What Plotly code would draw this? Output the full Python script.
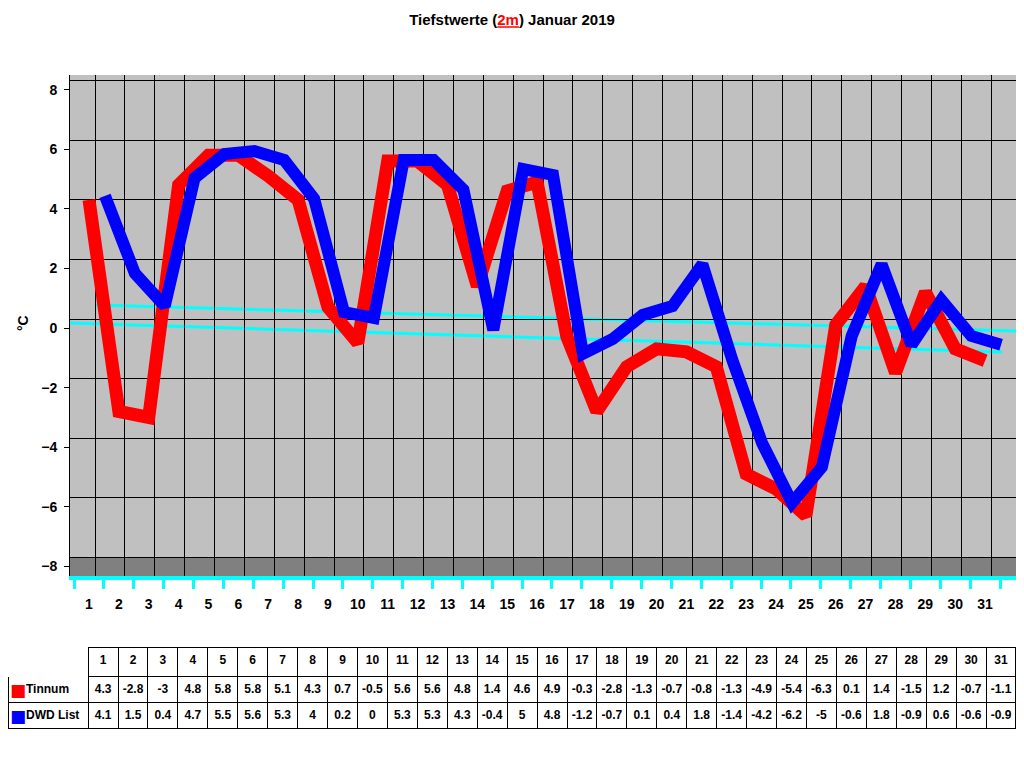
import plotly.graph_objects as go

# Tiefstwerte 2m, Januar 2019
days = list(range(1, 32))
tinnum = [4.3, -2.8, -3, 4.8, 5.8, 5.8, 5.1, 4.3, 0.7, -0.5, 5.6, 5.6, 4.8, 1.4, 4.6, 4.9,
          -0.3, -2.8, -1.3, -0.7, -0.8, -1.3, -4.9, -5.4, -6.3, 0.1, 1.4, -1.5, 1.2, -0.7, -1.1]
dwd = [4.1, 1.5, 0.4, 4.7, 5.5, 5.6, 5.3, 4, 0.2, 0, 5.3, 5.3, 4.3, -0.4, 5, 4.8,
       -1.2, -0.7, 0.1, 0.4, 1.8, -1.4, -4.2, -6.2, -5, -0.6, 1.8, -0.9, 0.6, -0.6, -0.9]
yticks = list(range(-8, 9, 2))
seriesNames = ["Tinnum", "DWD\u00a0List"]
seriesColors = ["#FF0000", "#0000FF"]

# the page body adds an 8px margin, so the figure is 16px smaller than the window
OFF = 8
W, H = 1024 - 2 * OFF, 768 - 2 * OFF
L, R, T, B = 70, 1016, 75, 576      # plot box in window pixels
pxDay = 29.87
pxDeg = 29.8
frontZero = 328                     # pixel row of 0 on the front plane
fontName = "Liberation Sans"
wall = "#C0C0C0"
floor = "#808080"
cyan = "#00FFFF"

boundaries = [d - 0.5 for d in days] + [days[-1] + 0.5]


def px(x):
    return min(max((x - OFF) / W, 0), 1)


def py(y):
    return min(max((H - (y - OFF)) / H, 0), 1)


def xRange(day1px):
    return [1 + (L - day1px) / pxDay, 1 + (R - day1px) / pxDay]


def yRange(zeroPx):
    return [(zeroPx - B) / pxDeg, (zeroPx - T) / pxDeg]


def tiltedZero(x0, x1, yLeft, yRight):
    # cyan zero line of the slightly tilted 3D box, offsets in pixels from 0
    return dict(type="line", layer="below", xref="paper", yref="y",
                ysizemode="pixel", yanchor=0,
                x0=px(x0), x1=px(x1),
                y0=frontZero - yLeft, y1=frontZero - yRight,
                line=dict(color=cyan, width=3))


xDom = [px(L), px(R)]
yDom = [py(B), py(T)]
boldFont = dict(family=fontName, size=14, color="black", weight="bold")

fig = go.Figure()

# blue series sits a bit deeper in the "3D" box
fig.add_trace(go.Scatter(x=days, y=dwd, name=seriesNames[1], mode="lines",
                         line=dict(color=seriesColors[1], width=12),
                         xaxis="x4", yaxis="y4", showlegend=False))
# red series on the front plane (main axes)
fig.add_trace(go.Scatter(x=days, y=tinnum, name=seriesNames[0], mode="lines",
                         line=dict(color=seriesColors[0], width=13),
                         xaxis="x", yaxis="y", showlegend=False))

# data table under the chart
tabTop, tabBot = 647, 730
headerVals = [""] + [str(d) for d in days]
labelCol = ["\u00a0\u00a0\u00a0" + n for n in seriesNames]
cellVals = [labelCol] + [[f"{a:g}", f"{b:g}"] for a, b in zip(tinnum, dwd)]
tableFont = dict(family=fontName, size=12, color="black", weight="bold")

fig.add_trace(go.Table(
    domain=dict(x=[px(8), px(1016)], y=[py(tabBot), py(tabTop)]),
    columnwidth=[80] + [29.9] * 31,
    header=dict(values=headerVals, fill_color="white", height=29,
                line=dict(color=["white"] + ["black"] * 31, width=1),
                align="center", font=tableFont),
    cells=dict(values=cellVals, fill_color="white", height=26,
               line=dict(color="black", width=1),
               align=["left"] + ["center"] * 31, font=tableFont),
))

annotations = [dict(text="°C", textangle=-90, xref="paper", yref="paper",
                    x=px(13), y=py(323), showarrow=False, font=boldFont)]
for i, c in enumerate(seriesColors):
    annotations.append(dict(text="■", xref="paper", yref="paper",
                            x=0, xanchor="left",
                            y=py(tabTop + 29 + 26 + 26 * i),
                            showarrow=False,
                            font=dict(family="DejaVu Sans", size=17, color=c)))

fig.update_layout(
    width=W, height=H,
    margin=dict(l=0, r=0, t=0, b=0),
    paper_bgcolor="white",
    plot_bgcolor=wall,
    showlegend=False,
    title=dict(text="Tiefstwerte (<span style='color:#FF0000'><u>2m</u></span>) Januar 2019",
               x=px(512), xanchor="center", y=py(20), yanchor="middle",
               font=dict(family=fontName, size=15, color="black", weight="bold")),
    # front plane: red series, day labels, bottom cyan axis, value labels
    xaxis=dict(domain=xDom, range=xRange(89), anchor="y",
               tickmode="array", tickvals=days, ticktext=[str(d) for d in days],
               ticks="", showgrid=False, zeroline=False,
               showline=True, linecolor=cyan, linewidth=4,
               minor=dict(tickvals=boundaries, ticks="outside", ticklen=9,
                          tickcolor=cyan, tickwidth=3, showgrid=False),
               ticklabelstandoff=12, tickfont=boldFont),
    yaxis=dict(domain=yDom, range=yRange(frontZero), anchor="x",
               tickmode="array", tickvals=yticks,
               ticks="outside", ticklen=5, tickcolor="black",
               showline=True, linecolor="black", linewidth=1,
               showgrid=False, zeroline=False,
               ticklabelstandoff=4, tickfont=boldFont),
    # back wall grid
    xaxis2=dict(overlaying="x", range=xRange(110), anchor="y2",
                tickmode="array", tickvals=boundaries, ticks="",
                showticklabels=False, showline=False, zeroline=False,
                showgrid=True, gridcolor="black", gridwidth=1),
    yaxis2=dict(overlaying="y", range=yRange(319), anchor="x2",
                tickmode="array", tickvals=yticks, ticks="",
                showticklabels=False, showline=False, zeroline=False,
                showgrid=True, gridcolor="black", gridwidth=1),
    # blue series plane
    xaxis4=dict(overlaying="x", range=xRange(105), anchor="y4", visible=False),
    yaxis4=dict(overlaying="y", range=yRange(frontZero - 10), anchor="x4", visible=False),
    shapes=[
        dict(type="rect", layer="below", xref="paper", yref="y2",
             x0=px(L), x1=px(R), y0=-8, y1=yRange(319)[0],
             fillcolor=floor, line=dict(width=0)),
        tiltedZero(96, 1016, 305, 331),     # back wall
        tiltedZero(70, 1002, 323, 352),     # front edge
    ],
    annotations=annotations,
)

fig.write_html("out.html")
